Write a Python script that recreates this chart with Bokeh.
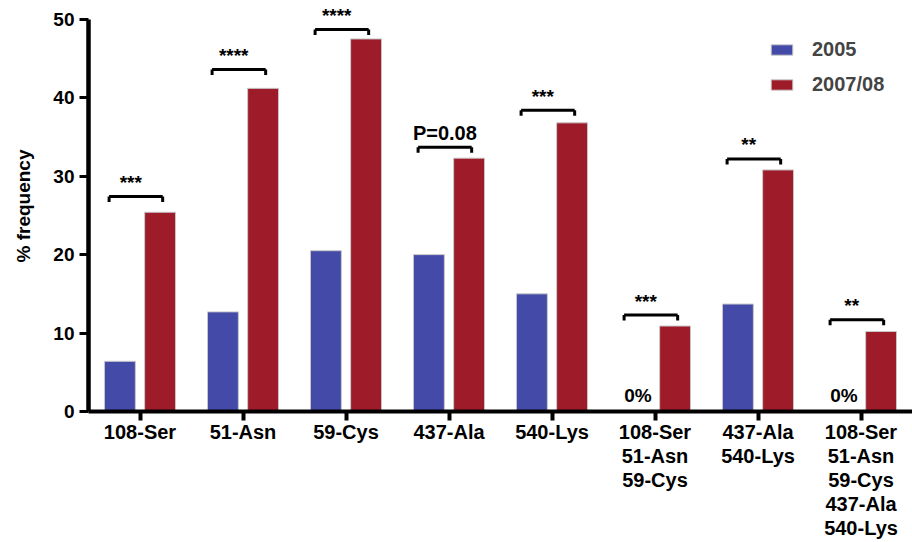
from bokeh.plotting import figure
from bokeh.models import Range1d, FixedTicker, Legend, LegendItem
from bokeh.core.properties import value
from bokeh.embed import file_html
from bokeh.resources import INLINE

# ---- data ----
categories = ["108-Ser", "51-Asn", "59-Cys", "437-Ala", "540-Lys",
              "108-Ser\n51-Asn\n59-Cys", "437-Ala\n540-Lys",
              "108-Ser\n51-Asn\n59-Cys\n437-Ala\n540-Lys"]
freq_2005 = [6.4, 12.7, 20.5, 20.0, 15.0, 0.0, 13.7, 0.0]
freq_2007_08 = [25.4, 41.2, 47.5, 32.3, 36.8, 10.9, 30.8, 10.2]
significance = ["***", "****", "****", "P=0.08", "***", "***", "**", "**"]
bracket_y = [27.4, 43.6, 48.7, 33.7, 38.4, 12.3, 32.2, 11.7]
y_ticks = [0, 10, 20, 30, 40, 50]

BLUE = "#434aa8"
RED = "#9e1b2a"
FONT = "Liberation Sans"

centers = [i + 0.5 for i in range(len(categories))]
blue_x = [c - 0.195 for c in centers]
red_x = [c + 0.195 for c in centers]

# frame extends a little above 50 so the top annotation is not clipped; axis line stops at 50
p = figure(width=912, height=542, x_range=Range1d(0, len(categories)), y_range=Range1d(0, 52.4),
           output_backend="svg", toolbar_location=None,
           min_border_left=88, min_border_right=0, min_border_top=0, min_border_bottom=130)
p.outline_line_color = None
p.xgrid.visible = False
p.ygrid.visible = False
p.background_fill_color = "white"

rb = p.vbar(x=blue_x, top=freq_2005, width=0.30, fill_color=BLUE, line_color="#c8c8c8", line_width=1)
rr = p.vbar(x=red_x, top=freq_2007_08, width=0.30, fill_color=RED, line_color="#c8c8c8", line_width=1)

# brackets
bx0 = [c - 0.30 for c in centers]
bx1 = [c + 0.22 for c in centers]
p.segment(x0=bx0, y0=bracket_y, x1=bx1, y1=bracket_y, line_color="black", line_width=3)
p.segment(x0=bx0, y0=bracket_y, x1=bx0, y1=[b - 0.7 for b in bracket_y], line_color="black", line_width=3)
p.segment(x0=bx1, y0=bracket_y, x1=bx1, y1=[b - 0.7 for b in bracket_y], line_color="black", line_width=3)

star_idx = [i for i, s in enumerate(significance) if s.startswith("*")]
pv_idx = [i for i, s in enumerate(significance) if not s.startswith("*")]
p.text(x=[centers[i] - 0.09 for i in star_idx], y=[bracket_y[i] for i in star_idx],
       text=[significance[i] for i in star_idx], text_align="center", text_baseline="alphabetic",
       y_offset=-14, text_font=value(FONT), text_font_style="bold", text_font_size="19px", text_color="black")
p.text(x=[centers[i] - 0.04 for i in pv_idx], y=[bracket_y[i] for i in pv_idx],
       text=[significance[i] for i in pv_idx], text_align="center", text_baseline="alphabetic",
       y_offset=-14, text_font=value(FONT), text_font_style="bold", text_font_size="20px", text_color="black")

# 0% labels
zero_idx = [i for i, v in enumerate(freq_2005) if v == 0]
p.text(x=[blue_x[i] + 0.03 for i in zero_idx], y=[0 for _ in zero_idx], text=["0%" for _ in zero_idx],
       text_align="center", text_baseline="alphabetic", y_offset=-16,
       text_font=value(FONT), text_font_style="bold", text_font_size="19px", text_color="black")

# axes
xa = p.xaxis[0]
xa.ticker = FixedTicker(ticks=centers)
xa.major_label_overrides = {c: lab for c, lab in zip(centers, categories)}
xa.axis_line_width = 4
xa.major_tick_line_width = 4
xa.major_tick_out = 9
xa.major_tick_in = 0
xa.minor_tick_out = 0
xa.minor_tick_in = 0
xa.major_label_standoff = 0
xa.major_label_text_font = FONT
xa.major_label_text_font_style = "bold"
xa.major_label_text_font_size = "20px"
xa.major_label_text_line_height = 1.1
xa.major_label_text_color = "black"

ya = p.yaxis[0]
ya.ticker = FixedTicker(ticks=y_ticks)
ya.bounds = (0, 50)
ya.axis_line_width = 4.5
ya.major_tick_line_width = 3
ya.major_tick_out = 9
ya.major_tick_in = 0
ya.minor_tick_out = 0
ya.minor_tick_in = 0
ya.major_label_standoff = 5
ya.major_label_text_font = FONT
ya.major_label_text_font_style = "bold"
ya.major_label_text_font_size = "19px"
ya.major_label_text_color = "black"
ya.axis_label = "% frequency"
ya.axis_label_text_font = FONT
ya.axis_label_text_font_style = "bold"
ya.axis_label_text_font_size = "19px"
ya.axis_label_text_color = "black"
ya.axis_label_standoff = 16

legend = Legend(items=[LegendItem(label="2005", renderers=[rb]),
                       LegendItem(label="2007/08", renderers=[rr])],
                location=(680, 315), glyph_width=27, glyph_height=13, label_standoff=17,
                label_height=20, spacing=12, padding=0, margin=0,
                border_line_color=None, background_fill_alpha=0,
                label_text_font=FONT, label_text_font_style="bold", label_text_font_size="20px")
p.add_layout(legend)

open("out.html", "w").write(file_html(p, INLINE))
